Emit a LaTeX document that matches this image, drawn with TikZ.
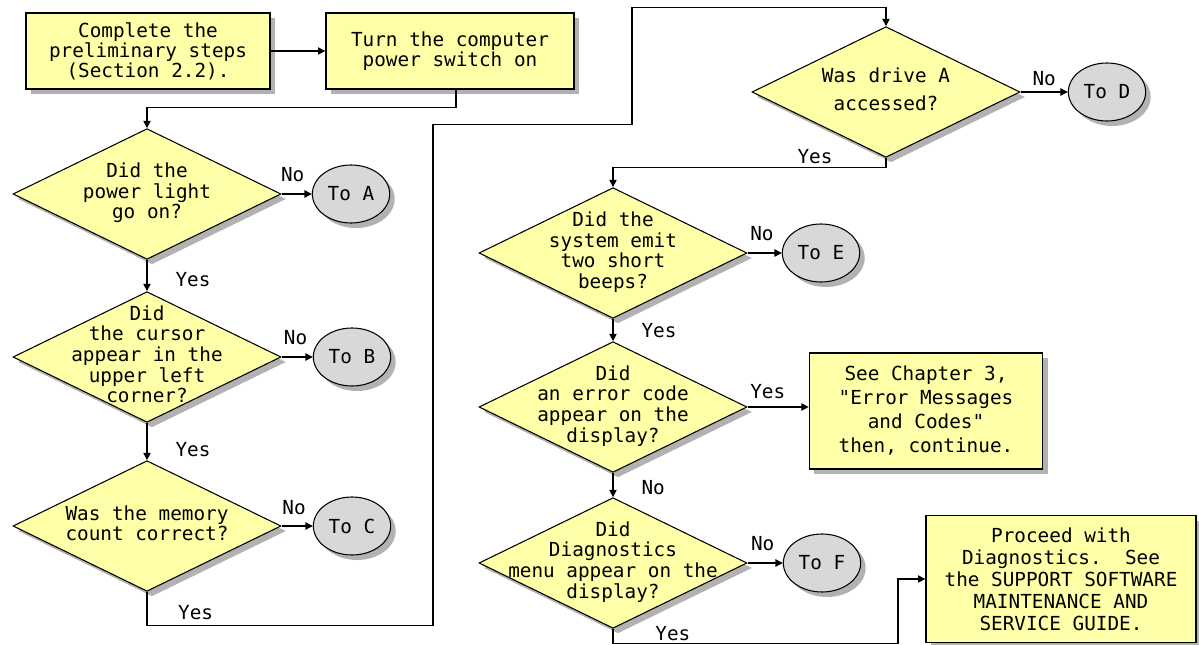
\documentclass[tikz,border=0pt]{standalone}
\usepackage{fontspec}
\setmainfont{DejaVu Sans Mono}[Ligatures=TeXOff]
\usetikzlibrary{shapes.geometric, shadows, arrows.meta, calc}
\definecolor{notepad}{HTML}{FFFFA8}
\definecolor{dotgray}{HTML}{D8D8D8}
\newcommand\dtext[1]{\smash{\makebox[0pt]{\raisebox{-.25em}{\begin{tabular}{@{}c@{}}#1\end{tabular}}}}}
\tikzset{
  shade box/.style={drop shadow={shadow xshift=3.75pt, shadow yshift=-3.75pt, fill=black!30, opacity=1}},
  procbox/.style={draw, line width=1pt, fill=notepad, shade box, align=center, minimum height=57pt, inner sep=0pt},
  decision/.style={diamond, draw, line width=0.8pt, fill=notepad, shade box, minimum width=201pt, minimum height=98pt, inner sep=0pt},
  offpage/.style={ellipse, draw, line width=0.8pt, fill=dotgray, shade box, minimum width=58pt, minimum height=43.5pt, inner sep=0pt},
  flow/.style={draw, line width=0.8pt, -{Triangle[length=5.5pt, width=5.5pt]}},
  lbl/.style={inner sep=1pt}
}

\begin{document}
\begin{tikzpicture}[x=0.75pt, y=-0.75pt, font=\fontsize{14.5}{15}\selectfont]
  \useasboundingbox (0,0) rectangle (1199,645);

  % left column
  \node[procbox, minimum width=183pt] (prelim) at (148,51) {Complete the\\preliminary steps\\(Section 2.2).};
  \node[procbox, minimum width=186pt] (power) at (450,51) {Turn the computer\\power switch on};
  \node[decision] (light) at (147,194) {\dtext{Did the\\power light\\go on?}};
  \node[offpage] (toA) at (351,194) {To A};
  \node[decision] (cursor) at (147,357) {\dtext{Did\\the cursor\\appear in the\\upper left\\corner?}};
  \node[offpage] (toB) at (352,357) {To B};
  \node[decision] (memory) at (147,526) {\dtext{Was the memory\\count correct?}};
  \node[offpage] (toC) at (352,526) {To C};

  % right column
  \node[decision] (drive) at (886,92) {\dtext{Was drive A\\[5pt]accessed?}};
  \node[offpage] (toD) at (1107,92) {To D};
  \node[decision] (beeps) at (613,253) {\dtext{Did the\\system emit\\two short\\beeps?}};
  \node[offpage] (toE) at (821,253) {To E};
  \node[decision] (errcode) at (613,407) {\dtext{Did\\an error code\\appear on the\\display?}};
  \node[procbox, minimum width=175pt, minimum height=87pt] (errmsg) at (926,411) {See Chapter 3,\\[3pt]"Error Messages\\[3pt]and Codes"\\[3pt]then, continue.};
  \node[decision] (diagmenu) at (613,563) {\dtext{Did\\Diagnostics\\menu appear on the\\display?}};
  \node[offpage] (toF) at (822,563) {To F};
  \node[procbox, minimum width=202.5pt, minimum height=95pt] (proceed) at (1061,579) {Proceed with\\[1.5pt]Diagnostics.\ \ See\\[1.5pt]the SUPPORT SOFTWARE\\[1.5pt]MAINTENANCE AND\\[1.5pt]SERVICE GUIDE.};

  % connectors
  \draw[flow] (prelim) -- (power);
  \draw[flow] ($(power.south)+(6,0)$) -- ++(0,18) -| (light.north);
  \draw[flow] (light.east) -- node[lbl, pos=.37, above=8pt] {No} (toA.west);
  \draw[flow] (light.south) -- node[lbl, pos=.62, right=20pt] {Yes} (cursor.north);
  \draw[flow] (cursor.east) -- node[lbl, pos=.45, above=8pt] {No} (toB.west);
  \draw[flow] (cursor.south) -- node[lbl, pos=.73, right=20pt] {Yes} (memory.north);
  \draw[flow] (memory.east) -- node[lbl, pos=.4, above=7pt] {No} (toC.west);
  \draw[flow] (memory.south) -- ++(0,34) -- node[lbl, pos=.17, above=3pt] {Yes} ++(286,0)
    -- ++(0,-501) -- ++(199,0) -- ++(0,-117) -| (drive.north);

  \draw[flow] (drive.east) -- node[lbl, pos=.5, above=3pt] {No} (toD.west);
  \draw[flow] (drive.south) -- ++(0,10) -| node[lbl, pos=.13, above=2pt] {Yes} (beeps.north);
  \draw[flow] (beeps.east) -- node[lbl, pos=.42, above=8pt] {No} (toE.west);
  \draw[flow] (beeps.south) -- node[lbl, pos=.54, right=20pt] {Yes} (errcode.north);
  \draw[flow] (errcode.east) -- node[lbl, pos=.33, above=5pt] {Yes} (errcode.east -| errmsg.west);
  \draw[flow] (errcode.south) -- node[lbl, pos=.6, right=20pt] {No} (diagmenu.north);
  \draw[flow] (diagmenu.east) -- node[lbl, pos=.43, above=8pt] {No} (toF.west);
  \draw[flow] (diagmenu.south) -- ++(0,15) -- node[lbl, pos=.21, above=1pt] {Yes} ++(285,0) |- (proceed.west);
\end{tikzpicture}
\end{document}
